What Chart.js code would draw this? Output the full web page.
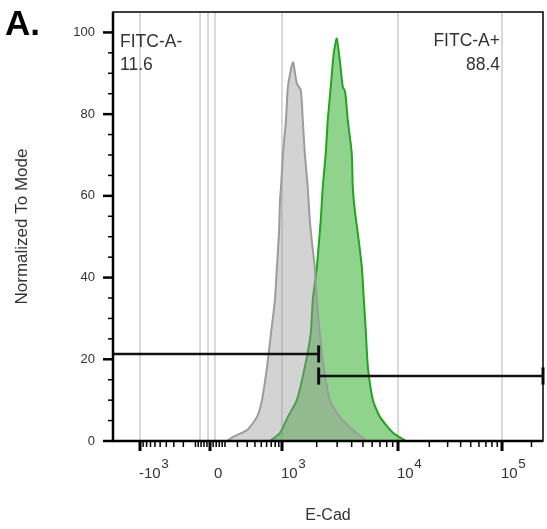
<!DOCTYPE html>
<html lang="en">
<head>
  <meta charset="UTF-8">
  <title>E-Cad histogram</title>
  <script src="https://cdn.jsdelivr.net/npm/chart.js@4.4.0/dist/chart.umd.min.js"></script>
  <style>
    html, body { margin: 0; padding: 0; background: #fff; }
    #wrap { position: relative; width: 547px; height: 529px; }
  </style>
</head>
<body>

  <div id="wrap"><canvas id="histChart"></canvas></div>

  <script>
    // grey = unstained control, green = E-Cad stained (FITC-A)
    const grayX = [115, 162, 299, 430, 512, 608, 696, 792, 846, 906, 936, 968, 1020, 1083, 1126, 1244,
                   1347, 1458, 1517, 1579, 1675, 1743, 1814, 1925, 2003, 2125, 2300, 2594, 3162, 4090, 5403];
    const grayY = [0, 1.0, 2.7, 5.9, 10.0, 18.1, 26.4, 34.5, 42.5, 50.9, 58.9, 62.1, 70.4, 78.5, 86.6, 92.7,
                   87.5, 85.8, 78.5, 70.4, 62.1, 54.0, 49.1, 42.5, 34.5, 26.4, 18.1, 10.0, 5.9, 2.7, 0];

    const greenX = [674, 936, 1126, 1347, 1579, 1778, 1850, 2003, 2125, 2168, 2255, 2394, 2490, 2644, 2805, 2977,
                    3162, 3357, 3490, 3563, 3706, 4007, 4090, 4254, 4516, 4891, 5092, 5301, 5513, 6094, 7000, 9050, 11980];
    const greenY = [0, 2.0, 5.9, 10.0, 18.1, 26.4, 34.5, 42.5, 50.9, 54.0, 62.1, 70.4, 78.5, 86.6, 94.9, 98.5,
                    93.2, 86.6, 85.8, 84.1, 78.5, 70.4, 62.1, 56.5, 50.9, 42.5, 34.5, 26.4, 18.1, 10.0, 5.9, 2.0, 0];

    // gates
    const gateNames = ['FITC-A-', 'FITC-A+'];
    const gatePercents = ['11.6', '88.4'];
    const gateSplit = 2080;
    const gateLevels = [21.3, 15.9];

    // axes
    const xMin = -2450;
    const xMax = 262144;
    const xMajorTicks = [-1000, 0, 1000, 10000, 100000];
    const xLabelBase = ['-10', '0', '10', '10', '10'];
    const xLabelExp = ['3', '', '3', '4', '5'];
    const xGridValues = [-1000, -67, -13, 32, 1000, 10000, 100000];
    const yTickLabels = [0, 20, 40, 60, 80, 100];

    const xMinorTicks = [];
    [-900, -800, -700, -600, -500, -400, -300, -200, -100, -80, -60, -40, -20,
     20, 40, 60, 80, 100, 200, 300, 400, 500, 600, 700, 800, 900].forEach(v => xMinorTicks.push(v));
    [1000, 10000].forEach(b => { for (let k = 2; k <= 9; k++) xMinorTicks.push(k * b); });
    xMinorTicks.push(200000);

    // biexponential-ish display: asinh stretch, pinned where FlowJo puts each decade
    const xStops = [xMin, -1000, 0, 1000, 10000, 100000, xMax];
    const xStopFrac = [0, 0.0628, 0.2256, 0.393, 0.6628, 0.9047, 1];
    const stretch = v => Math.asinh(v / 200);

    function biexFrac(v) {
      let i = 0;
      while (i < xStops.length - 2 && v > xStops[i + 1]) i++;
      const a = stretch(xStops[i]), b = stretch(xStops[i + 1]);
      const t = (stretch(v) - a) / (b - a);
      return xStopFrac[i] + t * (xStopFrac[i + 1] - xStopFrac[i]);
    }

    const LinearScale = Chart.LinearScale || Chart.registry.getScale('linear');
    class BiexScale extends LinearScale {
      buildTicks() {
        return xMajorTicks.concat(xMinorTicks).sort((a, b) => a - b).map(v => ({ value: v }));
      }
      getPixelForValue(value) {
        return this.left + this.width * biexFrac(value);
      }
      getValueForPixel(pixel) {
        const f = (pixel - this.left) / this.width;
        let lo = xMin, hi = xMax;
        for (let k = 0; k < 60; k++) {
          const mid = (lo + hi) / 2;
          if (biexFrac(mid) < f) lo = mid; else hi = mid;
        }
        return (lo + hi) / 2;
      }
    }
    BiexScale.id = 'biex';
    BiexScale.defaults = LinearScale.defaults;
    Chart.register(BiexScale);

    const FONT = "'Liberation Sans', Arial, sans-serif";
    const TEXT = '#333';

    const toPoints = (xs, ys) => xs.map((x, i) => ({ x: x, y: ys[i] }));
    const capHalf = 2.1;

    const flowDecor = {
      id: 'flowDecor',
      beforeDatasetsDraw(chart) {
        const { ctx, chartArea: a, scales: { x } } = chart;
        ctx.save();
        ctx.strokeStyle = '#cdcdcd';
        ctx.lineWidth = 1.5;
        xGridValues.forEach(v => {
          const px = x.getPixelForValue(v);
          ctx.beginPath();
          ctx.moveTo(px, a.top);
          ctx.lineTo(px, a.bottom);
          ctx.stroke();
        });
        ctx.restore();
      },
      afterDraw(chart) {
        const { ctx, chartArea: a, scales: { x, y } } = chart;
        ctx.save();

        // frame
        ctx.strokeStyle = '#000';
        ctx.lineWidth = 1.5;
        ctx.strokeRect(a.left, a.top, a.right - a.left, a.bottom - a.top);
        ctx.lineWidth = 2.5;
        ctx.beginPath();
        ctx.moveTo(a.left, a.top);
        ctx.lineTo(a.left, a.bottom);
        ctx.lineTo(a.right, a.bottom);
        ctx.stroke();

        // y ticks
        y.ticks.forEach(t => {
          if (t.value > 100) return;
          const py = y.getPixelForValue(t.value);
          const major = yTickLabels.includes(t.value);
          ctx.lineWidth = major ? 2.5 : 1.5;
          ctx.beginPath();
          ctx.moveTo(a.left, py);
          ctx.lineTo(a.left - (major ? 10 : 5), py);
          ctx.stroke();
        });

        // x ticks
        x.ticks.forEach(t => {
          const px = x.getPixelForValue(t.value);
          const major = xMajorTicks.includes(t.value);
          ctx.lineWidth = major ? 3 : 1.5;
          ctx.beginPath();
          ctx.moveTo(px, a.bottom);
          ctx.lineTo(px, a.bottom + (major ? 10 : 6));
          ctx.stroke();
        });

        // x tick labels with exponents
        ctx.fillStyle = TEXT;
        ctx.textAlign = 'left';
        ctx.textBaseline = 'alphabetic';
        xMajorTicks.forEach((v, i) => {
          const px = x.getPixelForValue(v) + (v === 0 ? 4 : -1);
          ctx.font = '15px ' + FONT;
          ctx.fillText(xLabelBase[i], px, a.bottom + 37);
          const w = ctx.measureText(xLabelBase[i]).width;
          ctx.font = '13.5px ' + FONT;
          ctx.fillText(xLabelExp[i], px + w + 0.5, a.bottom + 27);
        });

        // gate names and percentages
        ctx.font = '17.5px ' + FONT;
        ctx.fillText(gateNames[0], a.left + 7, 47);
        ctx.fillText(gatePercents[0], a.left + 7, 70);
        ctx.textAlign = 'right';
        ctx.fillText(gateNames[1], a.right - 43, 46);
        ctx.fillText(gatePercents[1], a.right - 43, 70);

        // panel letter
        ctx.textAlign = 'left';
        ctx.fillStyle = '#000';
        ctx.font = 'bold 35px ' + FONT;
        ctx.fillText('A.', 5, 35);

        ctx.restore();
      }
    };

    const gateStyle = { borderColor: '#111', borderWidth: 2.5, pointRadius: 0, fill: false, clip: false, order: 0 };
    const capStyle = { borderColor: '#111', borderWidth: 3, pointRadius: 0, fill: false, clip: false, order: 0 };

    new Chart(document.getElementById('histChart').getContext('2d'), {
      type: 'line',
      data: {
        datasets: [
          {
            label: 'Unstained',
            data: toPoints(grayX, grayY),
            borderColor: '#9c9c9c',
            backgroundColor: 'rgba(150, 150, 150, 0.42)',
            borderWidth: 2,
            pointRadius: 0,
            tension: 0.2,
            fill: 'origin',
            order: 1
          },
          {
            label: 'E-Cad',
            data: toPoints(greenX, greenY),
            borderColor: '#22a322',
            backgroundColor: 'rgba(40, 170, 35, 0.52)',
            borderWidth: 2,
            pointRadius: 0,
            tension: 0.2,
            fill: 'origin',
            order: 2
          },
          Object.assign({ data: [{ x: xMin, y: gateLevels[0] }, { x: gateSplit, y: gateLevels[0] }] }, gateStyle),
          Object.assign({ data: [{ x: gateSplit, y: gateLevels[0] - capHalf }, { x: gateSplit, y: gateLevels[0] + capHalf }] }, capStyle),
          Object.assign({ data: [{ x: gateSplit, y: gateLevels[1] }, { x: xMax, y: gateLevels[1] }] }, gateStyle),
          Object.assign({ data: [{ x: gateSplit, y: gateLevels[1] - capHalf }, { x: gateSplit, y: gateLevels[1] + capHalf }] }, capStyle),
          Object.assign({ data: [{ x: xMax, y: gateLevels[1] - capHalf }, { x: xMax, y: gateLevels[1] + capHalf }] }, capStyle)
        ]
      },
      options: {
        responsive: true,
        maintainAspectRatio: false,
        animation: false,
        events: [],
        layout: { padding: { top: 12, right: 4, left: 0, bottom: 0 } },
        scales: {
          x: {
            type: 'biex',
            min: xMin,
            max: xMax,
            afterFit: s => { s.height = 88; s.paddingLeft = 0; s.paddingRight = 0; },
            ticks: { display: false, autoSkip: false, callback: () => '' },
            grid: { display: false, drawTicks: false },
            border: { display: false },
            title: { display: true, text: 'E-Cad', color: TEXT, font: { family: FONT, size: 16 }, padding: { top: 0, bottom: 4 } }
          },
          y: {
            type: 'linear',
            min: 0,
            max: 105,
            afterFit: s => { s.width = 113; s.paddingTop = 0; s.paddingBottom = 0; },
            ticks: {
              stepSize: 5,
              autoSkip: false,
              padding: 18,
              color: TEXT,
              font: { family: FONT, size: 13 },
              callback: v => yTickLabels.includes(v) ? String(v) : ''
            },
            grid: { display: false, drawTicks: false },
            border: { display: false },
            title: { display: true, text: 'Normalized To Mode', color: TEXT, font: { family: FONT, size: 17 }, padding: { top: 12, bottom: 0 } }
          }
        },
        plugins: {
          legend: { display: false },
          tooltip: { enabled: false }
        }
      },
      plugins: [flowDecor]
    });
  </script>
</body>
</html>
